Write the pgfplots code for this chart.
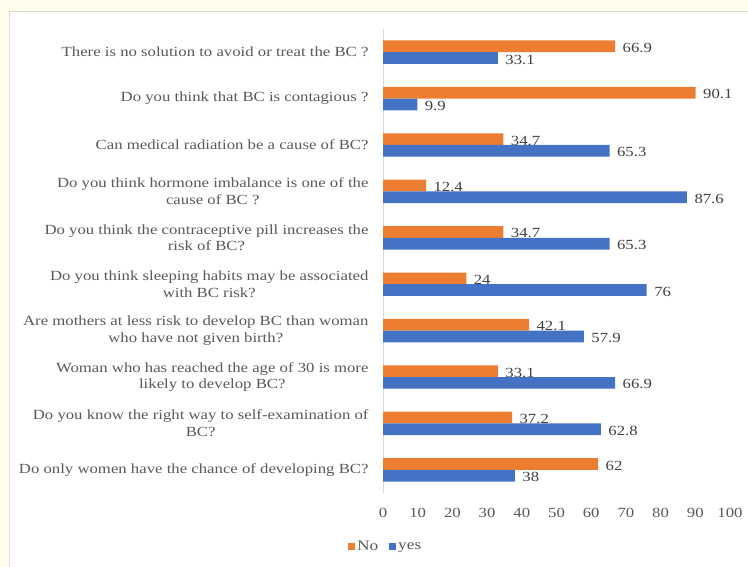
\documentclass[border=0pt]{standalone}
\usepackage{pgfplots}
\pgfplotsset{compat=1.18}
\usepackage{fontspec}
\setmainfont[FakeStretch=1.2]{Liberation Serif}
\definecolor{cNo}{HTML}{ED7D31}
\definecolor{cYes}{HTML}{4472C4}
\definecolor{txt}{HTML}{595959}
\definecolor{lbl}{HTML}{404040}
\definecolor{bg}{HTML}{FFFDEB}
\definecolor{frm}{HTML}{D9D9D9}
\pgfplotstableread{
y No yes
9 66.9 33.1
8 90.1 9.9
7 34.7 65.3
6 12.4 87.6
5 34.7 65.3
4 24 76
3 42.1 57.9
2 33.1 66.9
1 37.2 62.8
0 62 38
}\datatable
\begin{document}
\begin{tikzpicture}[x=1bp,y=1bp]
\fill[bg] (0,0) rectangle (748,-567);
\useasboundingbox (0,0) rectangle (748,-567);
\fill[white] (9,-12) rectangle (748,-567);
\draw[frm, line width=1bp] (9,-567) -- (9,-12) -- (748,-12);
\begin{axis}[
  at={(383bp,-493bp)}, anchor=south west,
  scale only axis, width=347bp, height=464bp,
  xmin=0, xmax=100, ymin=-0.5, ymax=9.5,
  xbar, bar width=11.7bp,
  axis y line*=left,
  axis x line*=bottom,
  x axis line style={draw=none},
  y axis line style={frm, line width=1bp},
  xtick={0,10,...,100}, ytick={0,...,9},
  major tick length=0pt,
  /pgf/number format/assume math mode=true,
  xticklabel style={font=\fontsize{14}{16}\selectfont, text=txt, yshift=-12bp},
  yticklabels={
    {Do only women have the chance of developing BC?},
    {Do you know the right way to self-examination of\\BC?},
    {Woman who has reached the age of 30 is more\\likely to develop BC?},
    {Are mothers at less risk to develop BC than woman\\who have not given birth?},
    {Do you think sleeping habits may be associated\\with BC risk?},
    {Do you think the contraceptive pill increases the\\risk of BC?},
    {Do you think hormone imbalance is one of the\\cause of BC ?},
    {Can medical radiation be a cause of BC?},
    {Do you think that BC is contagious ?},
    {There is no solution to avoid or treat the BC ?}},
  yticklabel style={align=center, font=\fontsize{14}{16.7}\selectfont, text=txt, xshift=-11bp},
  nodes near coords,
  every node near coord/.append style={font=\fontsize{14}{16}\selectfont, text=lbl, xshift=4bp, yshift=-1.5bp},
  legend style={at={(-0.11,-0.116)}, anchor=west, legend columns=2, draw=none, fill=none,
    font=\fontsize{14.5}{16}\selectfont, text=txt,
    /tikz/every even column/.append style={column sep=9bp}},
]
\addplot[fill=cNo, draw=none, bar shift=5.85bp,
  legend image code/.code={\fill[cNo] (0bp,-3.5bp) rectangle (7bp,3.5bp);}]
  table[x=No, y=y] {\datatable};
\addlegendentry{No}
\addplot[fill=cYes, draw=none, bar shift=-5.85bp,
  legend image code/.code={\fill[cYes] (0bp,-3.5bp) rectangle (7bp,3.5bp);}]
  table[x=yes, y=y] {\datatable};
\addlegendentry{yes}
\end{axis}
\end{tikzpicture}
\end{document}
